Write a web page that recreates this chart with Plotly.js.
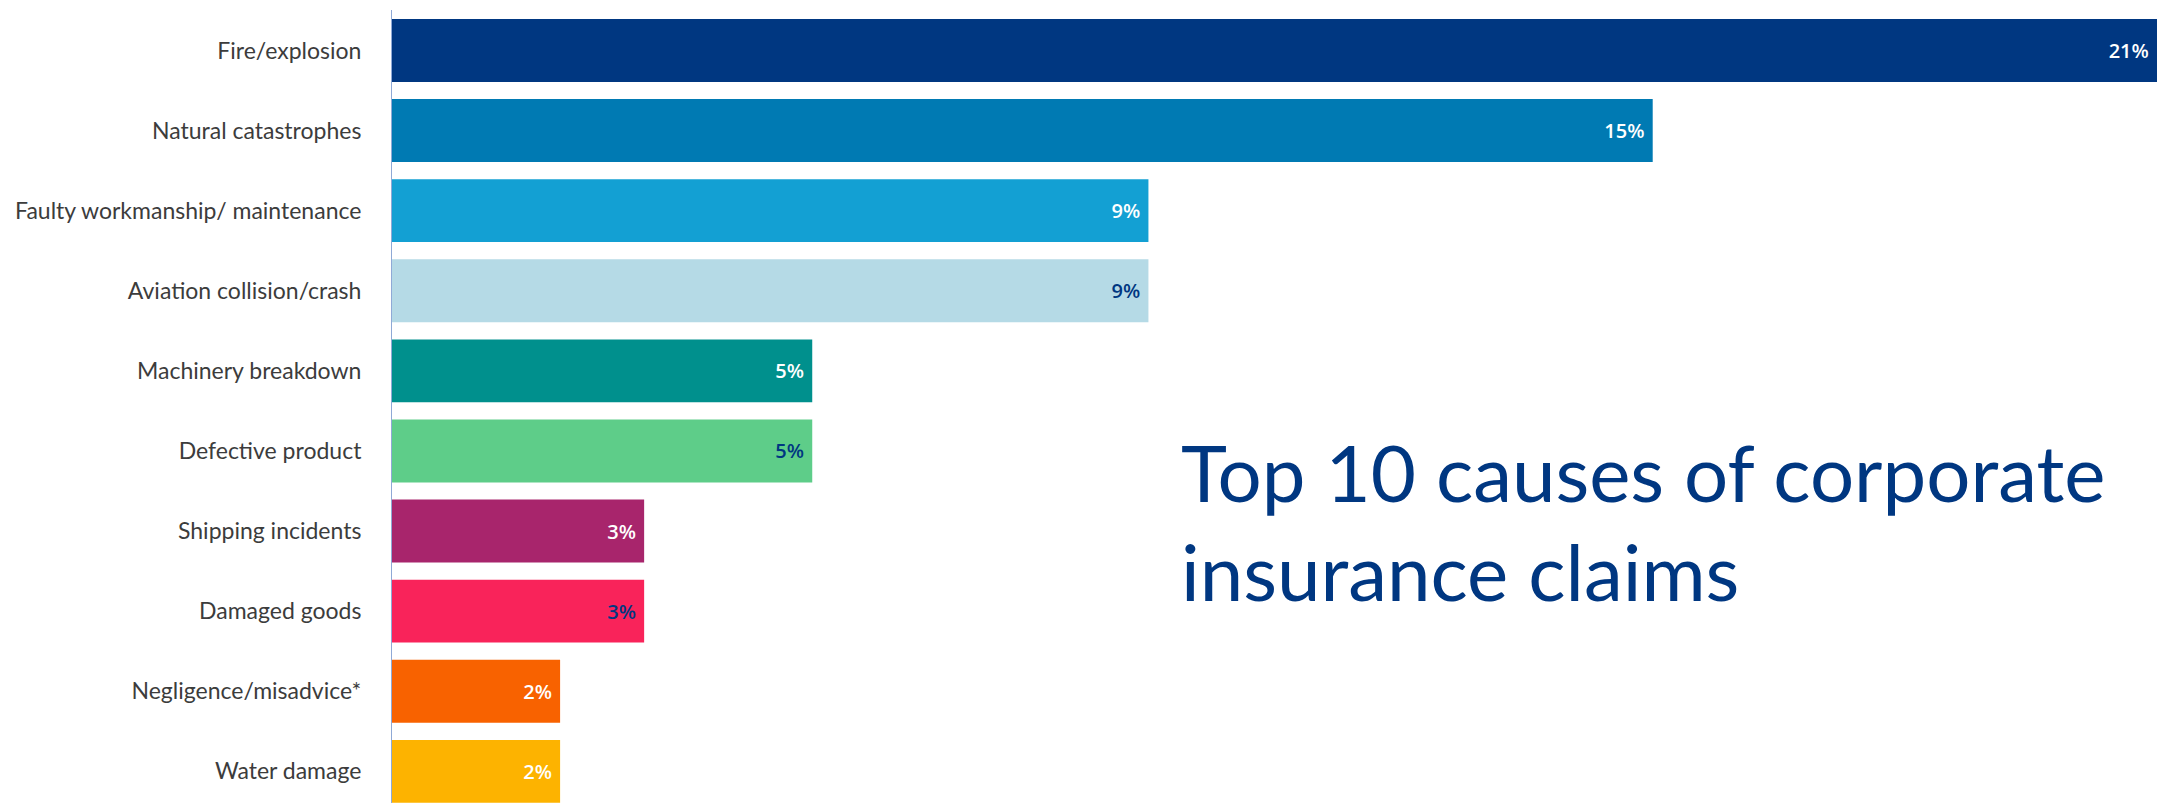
<!DOCTYPE html>
<html>
<head>
<meta charset="utf-8">
<script src="https://cdn.plot.ly/plotly-3.0.1.min.js"></script>
<style>
  html, body { margin: 0; padding: 0; background: #ffffff; }
  #chart { width: 2157px; height: 803px; }
</style>
</head>
<body>
<div id="chart"></div>
<script>
const categories = [
  "Fire/explosion",
  "Natural catastrophes",
  "Faulty workmanship/ maintenance",
  "Aviation collision/crash",
  "Machinery breakdown",
  "Defective product",
  "Shipping incidents",
  "Damaged goods",
  "Negligence/misadvice*",
  "Water damage"
];
const shares = [21, 15, 9, 9, 5, 5, 3, 3, 2, 2];
const barColors = ["#003781", "#007AB3", "#13A0D3", "#B5DAE6", "#00908D",
                   "#5ECD89", "#A8256C", "#F9235A", "#F86200", "#FDB300"];
const labelColors = ["#ffffff", "#ffffff", "#ffffff", "#003781", "#ffffff",
                     "#003781", "#ffffff", "#003781", "#ffffff", "#ffffff"];
const titleLines = ["Top 10 causes of corporate", "insurance claims"];

const trace = {
  type: "bar",
  orientation: "h",
  y: categories,
  x: shares,
  marker: { color: barColors, line: { width: 0 } },
  width: 0.785,
  text: shares.map(v => v + "%"),
  texttemplate: "%{text}\u00a0",
  textposition: "inside",
  insidetextanchor: "end",
  textangle: 0,
  textfont: { family: "Open Sans, sans-serif", size: 20, weight: 600, color: labelColors },
  hoverinfo: "none",
  cliponaxis: false
};

const titleFont = { family: "Lato, sans-serif", size: 78, color: "#003781" };

const layout = {
  width: 2157,
  height: 803,
  margin: { l: 392, r: 0, t: 10, b: 0, pad: 0 },
  paper_bgcolor: "#ffffff",
  plot_bgcolor: "#ffffff",
  showlegend: false,
  xaxis: {
    range: [0, 21],
    visible: false,
    fixedrange: true
  },
  yaxis: {
    type: "category",
    categoryorder: "array",
    categoryarray: categories,
    range: [9.395, -0.505],
    autorange: false,
    showline: true,
    linecolor: "#8FA9D6",
    linewidth: 1,
    showgrid: false,
    zeroline: false,
    ticks: "",
    ticklabelstandoff: 25,
    tickfont: { family: "Lato, sans-serif", size: 23, color: "#3c3c3c" },
    fixedrange: true
  },
  annotations: [
    {
      xref: "paper", yref: "paper",
      x: 0.4459, y: 0.417,
      xanchor: "left", yanchor: "middle",
      text: titleLines[0],
      showarrow: false,
      font: titleFont
    },
    {
      xref: "paper", yref: "paper",
      x: 0.4459, y: 0.2926,
      xanchor: "left", yanchor: "middle",
      text: titleLines[1],
      showarrow: false,
      font: titleFont
    }
  ]
};

Plotly.newPlot("chart", [trace], layout, { staticPlot: true, displayModeBar: false });
</script>
</body>
</html>
